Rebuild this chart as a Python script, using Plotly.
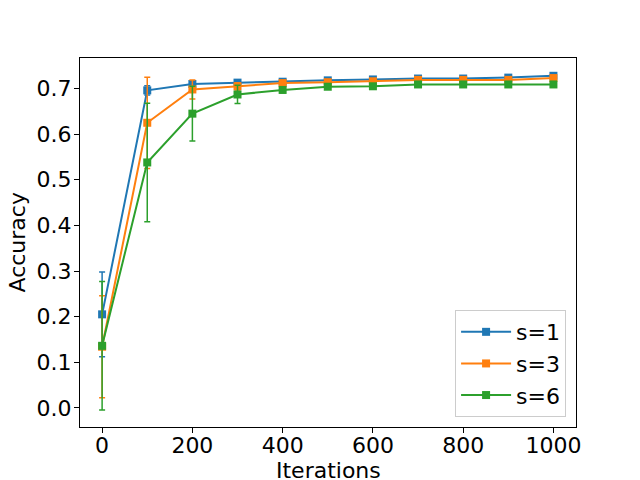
import plotly.graph_objects as go

iterations = [0, 100, 200, 300, 400, 500, 600, 700, 800, 900, 1000]
s1_mean = [0.205, 0.696, 0.710, 0.713, 0.715, 0.718, 0.720, 0.722, 0.722, 0.724, 0.728]
s1_err = [0.093, 0.010, 0.005, 0.004, 0.003, 0.003, 0.003, 0.003, 0.003, 0.003, 0.003]
s3_mean = [0.134, 0.625, 0.698, 0.705, 0.712, 0.714, 0.716, 0.719, 0.719, 0.719, 0.723]
s3_err = [0.112, 0.100, 0.021, 0.008, 0.005, 0.004, 0.004, 0.003, 0.003, 0.003, 0.003]
s6_mean = [0.136, 0.538, 0.645, 0.687, 0.697, 0.704, 0.705, 0.709, 0.709, 0.709, 0.709]
s6_err = [0.141, 0.130, 0.060, 0.020, 0.006, 0.004, 0.004, 0.003, 0.003, 0.003, 0.003]

x_title = "Iterations"
y_title = "Accuracy"

series = [
    ("s=1", s1_mean, s1_err, "#1f77b4"),
    ("s=3", s3_mean, s3_err, "#ff7f0e"),
    ("s=6", s6_mean, s6_err, "#2ca02c"),
]

fig = go.Figure()
for name, mean, err, color in series:
    fig.add_trace(go.Scatter(
        x=iterations, y=mean, name=name, mode="lines+markers",
        line=dict(color=color, width=2),
        marker=dict(symbol="square", size=8, color=color),
        error_y=dict(type="data", array=err, visible=True, color=color,
                     thickness=1.5, width=3),
    ))

font = dict(family="DejaVu Sans", size=22, color="black")
axis_common = dict(
    showgrid=False, zeroline=False, showline=True, linecolor="black",
    linewidth=1, mirror=True, ticks="outside", ticklen=5, tickwidth=1,
    tickcolor="black", tickfont=font, automargin=False,
)
fig.update_layout(
    width=640, height=480,
    margin=dict(l=72, r=72, t=50, b=61),
    paper_bgcolor="white", plot_bgcolor="white",
    font=font,
    xaxis=dict(range=[-49, 1050], tickvals=[0, 200, 400, 600, 800, 1000],
               ticklabelstandoff=-6, **axis_common),
    yaxis=dict(range=[-0.042, 0.767], tickvals=[0.0, 0.1, 0.2, 0.3, 0.4, 0.5, 0.6, 0.7],
               tickformat=".1f", ticklabelstandoff=-2, **axis_common),
    legend=dict(x=0.98, y=0.027, xanchor="right", yanchor="bottom",
                bgcolor="rgba(255,255,255,0.8)", bordercolor="#cccccc", borderwidth=1,
                font=font, itemwidth=50, tracegroupgap=0),
    showlegend=True,
    annotations=[
        dict(text=x_title, xref="paper", yref="paper", x=0.5, y=-0.117,
             xanchor="center", yanchor="middle", showarrow=False, font=font),
        dict(text=y_title, xref="paper", yref="paper", x=-0.127, y=0.5,
             xanchor="center", yanchor="middle", showarrow=False, font=font,
             textangle=-90),
    ],
)

fig.write_html("out.html")
